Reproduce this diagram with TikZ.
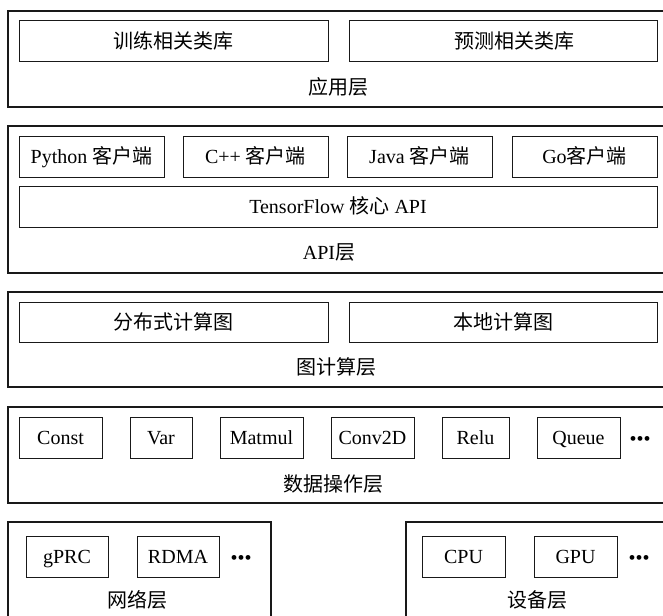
\documentclass[tikz,border=0pt]{standalone}
\usepackage{fontspec}
\setmainfont{Liberation Serif}
\newfontfamily\cjk{Noto Sans CJK SC}
\begin{document}
\begin{tikzpicture}[x=1pt,y=-1pt,
  font=\fontsize{20}{24}\selectfont,
  layerbox/.style={draw=black!90, line width=1.2pt, inner sep=0pt},
  itembox/.style={draw=black!90, line width=1pt, inner sep=0pt, minimum height=41pt,
                  text height=18pt, text depth=4pt},
  lbl/.style={inner sep=0pt, text height=18pt, text depth=4pt},
  dotsnode/.style={inner sep=0pt, anchor=center, yshift=-4pt}]
\clip (0,0) rectangle (663,615);
\fill[white] (0,0) rectangle (663,615);

% application layer
\node[layerbox, minimum width=662pt, minimum height=96pt] (L1) at (339,59) {};
\node[itembox, minimum width=309pt] (train) at (173.5,41.5) {\cjk 训练相关类库};
\node[itembox, minimum width=308pt] (predict) at (503,41.5) {\hspace*{22pt}\cjk 预测相关类库};
\node[lbl] (lbl1) at (338,88) {\cjk 应用层};

% API layer
\node[layerbox, minimum width=662pt, minimum height=147pt] (L2) at (339,199.5) {};
\node[itembox, minimum width=145pt] (python) at (91.5,156.5) {Python {\cjk 客户端}};
\node[itembox, minimum width=145pt] (cpp) at (255.5,156.5) {C++ {\cjk 客户端}};
\node[itembox, minimum width=145pt] (java) at (419.5,156.5) {Java {\cjk 客户端}};
\node[itembox, minimum width=145pt] (go) at (584.5,156.5) {Go{\cjk 客户端}};
\node[itembox, minimum width=638pt] (core) at (338,206.5) {TensorFlow {\cjk 核心} API};
\node[lbl] (lbl2) at (329,252) {API{\cjk 层}};

% graph layer
\node[layerbox, minimum width=662pt, minimum height=95pt] (L3) at (339,339.5) {};
\node[itembox, minimum width=309pt, minimum height=40pt] (dist) at (173.5,322) {\cjk 分布式计算图};
\node[itembox, minimum width=308pt, minimum height=40pt] (local) at (503,322) {\cjk 本地计算图};
\node[lbl] (lbl3) at (336,367) {\cjk 图计算层};

% data operation layer
\node[layerbox, minimum width=662pt, minimum height=96pt] (L4) at (339,455) {};
\node[itembox, minimum width=83pt] (const) at (60.5,437.5) {Const};
\node[itembox, minimum width=62pt] (var) at (161,437.5) {Var};
\node[itembox, minimum width=83pt] (matmul) at (261.5,437.5) {Matmul};
\node[itembox, minimum width=83pt] (conv) at (372.5,437.5) {Conv2D};
\node[itembox, minimum width=67pt] (relu) at (475.5,437.5) {Relu};
\node[itembox, minimum width=83pt] (queue) at (578.5,437.5) {Queue};
\node[dotsnode] (dots4) at (640,437) {•••};
\node[lbl] (lbl4) at (333,484) {\cjk 数据操作层};

% network layer
\node[layerbox, minimum width=263pt, minimum height=118pt] (Lnet) at (139.5,581) {};
\node[itembox, minimum width=82pt] (grpc) at (67,556.5) {gPRC};
\node[itembox, minimum width=82pt] (rdma) at (178,556.5) {RDMA};
\node[dotsnode] (dots5) at (241,556) {•••};
\node[lbl] (lbl5) at (137,600) {\cjk 网络层};

% device layer
\node[layerbox, minimum width=264pt, minimum height=118pt] (Ldev) at (538,581) {};
\node[itembox, minimum width=83pt] (cpu) at (463.5,556.5) {CPU};
\node[itembox, minimum width=83pt] (gpu) at (575.5,556.5) {GPU};
\node[dotsnode] (dots6) at (639,556) {•••};
\node[lbl] (lbl6) at (537,600) {\cjk 设备层};
\end{tikzpicture}
\end{document}
